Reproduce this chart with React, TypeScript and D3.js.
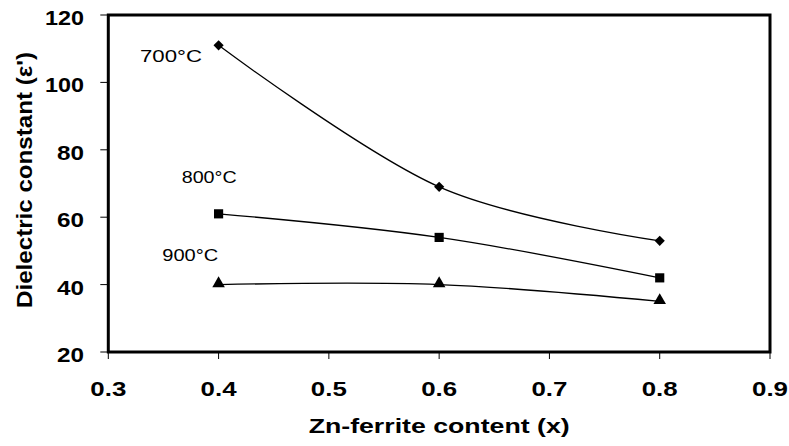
import React from "react";
import * as d3 from "d3";

const xValues = [0.4, 0.6, 0.8];
const s700 = [111, 69, 53];
const s800 = [61, 54, 42];
const s900 = [40, 40, 35];
const xTicks = [0.3, 0.4, 0.5, 0.6, 0.7, 0.8, 0.9];
const yTicks = [20, 40, 60, 80, 100, 120];
const seriesLabels = ["700°C", "800°C", "900°C"];

const W = 789;
const H = 446;
const L = 108.3, R = 770, T = 15, B = 352;
const FONT = "'Liberation Sans', Arial, sans-serif";

export default function App() {
  const x = d3.scaleLinear().domain([0.3, 0.9]).range([L, R]);
  const y = d3.scaleLinear().domain([20, 120]).range([B, T]);
  const line = d3
    .line<[number, number]>()
    .x((d) => x(d[0]))
    .y((d) => y(d[1]))
    .curve(d3.curveCatmullRom.alpha(0));

  const series = [s700, s800, s900].map((vals) =>
    xValues.map((xv, i) => [xv, vals[i]] as [number, number])
  );

  const diamond = d3.symbol(d3.symbolSquare, 52)();
  const square = d3.symbol(d3.symbolSquare, 84)();
  const tri = d3.symbol(d3.symbolTriangle, 68)();

  const labelPos = [
    { x: 140, y: 62, len: 62 },
    { x: 181.7, y: 182.7, len: 55 },
    { x: 162.3, y: 261, len: 56 },
  ];

  return (
    <svg
      width={W}
      height={H}
      style={{ position: "absolute", left: 0, top: 0, background: "#fff" }}
    >
      <rect x={0} y={0} width={W} height={H} fill="#fff" />
      {yTicks.map((t) => (
        <g key={"y" + t}>
          <line x1={L - 8} x2={L} y1={y(t)} y2={y(t)} stroke="#000" strokeWidth={1} />
          <text
            x={84}
            y={y(t) + 10}
            textAnchor="end"
            fontFamily={FONT}
            fontWeight="bold"
            fontSize={21}
            textLength={t >= 100 ? 39 : 27}
            lengthAdjust="spacingAndGlyphs"
          >
            {t}
          </text>
        </g>
      ))}
      {xTicks.map((t) => (
        <g key={"x" + t}>
          <line x1={x(t)} x2={x(t)} y1={B} y2={B + 7} stroke="#000" strokeWidth={1} />
          <text
            x={x(t)}
            y={395.5}
            textAnchor="middle"
            fontFamily={FONT}
            fontWeight="bold"
            fontSize={21}
            textLength={36}
            lengthAdjust="spacingAndGlyphs"
          >
            {t.toFixed(1)}
          </text>
        </g>
      ))}
      <rect x={L} y={T} width={R - L} height={B - T} fill="none" stroke="#000" strokeWidth={3} />
      {series.map((s, i) => (
        <path key={"l" + i} d={line(s) || ""} fill="none" stroke="#000" strokeWidth={1.3} />
      ))}
      {series[0].map((d, i) => (
        <path
          key={"d" + i}
          d={diamond}
          transform={`translate(${x(d[0])},${y(d[1])}) rotate(45)`}
          fill="#000"
        />
      ))}
      {series[1].map((d, i) => (
        <path key={"s" + i} d={square} transform={`translate(${x(d[0])},${y(d[1])})`} fill="#000" />
      ))}
      {series[2].map((d, i) => (
        <path key={"t" + i} d={tri} transform={`translate(${x(d[0])},${y(d[1]) - 1})`} fill="#000" />
      ))}
      {seriesLabels.map((lab, i) => (
        <text
          key={"lab" + i}
          x={labelPos[i].x}
          y={labelPos[i].y}
          fontFamily={FONT}
          fontSize={17}
          textLength={labelPos[i].len}
          lengthAdjust="spacingAndGlyphs"
        >
          {lab}
        </text>
      ))}
      <text
        x={(L + R) / 2}
        y={433}
        textAnchor="middle"
        fontFamily={FONT}
        fontWeight="bold"
        fontSize={20}
        textLength={261}
        lengthAdjust="spacingAndGlyphs"
      >
        Zn-ferrite content (x)
      </text>
      <text
        transform={`translate(31.5,180) rotate(-90)`}
        textAnchor="middle"
        fontFamily={FONT}
        fontWeight="bold"
        fontSize={22}
        textLength={256}
        lengthAdjust="spacingAndGlyphs"
      >
        Dielectric constant (ε')
      </text>
    </svg>
  );
}
